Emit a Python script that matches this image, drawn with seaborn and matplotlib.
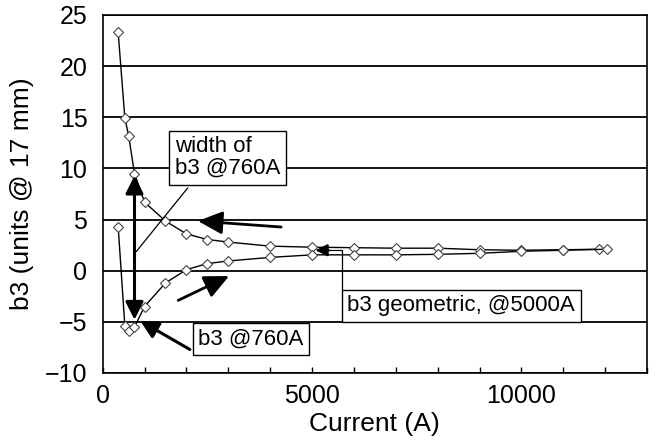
import matplotlib
matplotlib.use("Agg")
import matplotlib.pyplot as plt
import seaborn as sns
import pandas as pd

# ---- data ----
upper_current = [370, 530, 620, 760, 1000, 1500, 2000, 2500, 3000, 4000, 5000,
                 6000, 7000, 8000, 9000, 10000, 11000, 11850]
upper_b3 = [23.3, 14.9, 13.2, 9.5, 6.7, 4.85, 3.6, 3.05, 2.8, 2.4, 2.3,
            2.25, 2.2, 2.2, 2.05, 2.0, 2.05, 2.1]
lower_current = [370, 530, 620, 760, 1000, 1500, 2000, 2500, 3000, 4000, 5000,
                 6000, 7000, 8000, 9000, 10000, 11000, 12050]
lower_b3 = [4.3, -5.4, -5.9, -5.5, -3.5, -1.2, 0.1, 0.7, 0.95, 1.3, 1.55,
            1.55, 1.55, 1.6, 1.7, 1.9, 2.0, 2.1]

x_ticks = [0, 5000, 10000]
y_ticks = [-10, -5, 0, 5, 10, 15, 20, 25]

label_width = "width of\nb3 @760A"
label_760 = "b3 @760A"
label_geom = "b3 geometric, @5000A"

df = pd.concat([
    pd.DataFrame({"Current": upper_current, "b3": upper_b3, "branch": "down"}),
    pd.DataFrame({"Current": lower_current, "b3": lower_b3, "branch": "up"}),
])

sns.set_theme(style="white")
plt.rcParams["font.family"] = ["Liberation Sans", "DejaVu Sans"]
plt.rcParams["text.color"] = "black"
plt.rcParams["axes.labelcolor"] = "black"
plt.rcParams["xtick.color"] = "black"
plt.rcParams["ytick.color"] = "black"

fig = plt.figure(figsize=(6.59, 4.46), dpi=100)
ax = fig.add_axes([0.1558, 0.1637, 0.826, 0.8027])

for br in ["down", "up"]:
    sns.lineplot(data=df[df["branch"] == br], x="Current", y="b3", ax=ax,
                 sort=False, estimator=None, color="black", lw=1.0,
                 marker="D", markersize=5, markerfacecolor="white",
                 markeredgecolor="#444444", markeredgewidth=0.8, zorder=3)

ax.set_xlim(0, 13000)
ax.set_ylim(-10, 25)
ax.set_xticks(x_ticks)
ax.set_xticks(range(0, 13001, 1000), minor=True)
ax.set_yticks(y_ticks)
ax.yaxis.grid(True, color="black", lw=1.3)
ax.set_axisbelow(True)
for s in ax.spines.values():
    s.set_color("black")
    s.set_linewidth(1.2)
    s.set_visible(True)

ax.tick_params(axis="x", which="both", direction="in", length=4, width=1,
               color="black", labelcolor="black", bottom=True, labelsize=18, pad=8)
ax.tick_params(axis="y", length=0, labelsize=18, pad=11, labelcolor="black")
ax.set_xlabel("Current (A)", fontsize=19, labelpad=3, color="black")
ax.set_ylabel("b3 (units @ 17 mm)", fontsize=19, labelpad=8, color="black")

box = dict(boxstyle="square,pad=0.25", fc="white", ec="black", lw=1.0)

# width annotation
ax.plot([2033, 800], [8.1, 1.86], color="black", lw=0.9, zorder=4)
ax.text(1720, 11.05, label_width, fontsize=16, ha="left", va="center",
        linespacing=1.05, bbox=box, zorder=6, color="black")
ax.annotate("", xy=(760, -4.8), xytext=(760, 9.3),
            arrowprops=dict(arrowstyle="<|-|>,head_length=0.6,head_width=0.3",
                            mutation_scale=18, color="black", lw=2.2,
                            shrinkA=0, shrinkB=0), zorder=5)

# b3 @760A
ax.annotate("", xy=(897, -4.9), xytext=(2082, -7.7),
            arrowprops=dict(arrowstyle="-|>,head_length=0.6,head_width=0.3",
                            mutation_scale=18, color="black", lw=2.2,
                            shrinkA=0, shrinkB=0), zorder=5)
ax.text(3546, -6.7, label_760, fontsize=16, ha="center", va="center",
        bbox=box, zorder=6, color="black")

# geometric
ax.plot([5721, 5721, 5300], [-1.98, 2.0, 2.0], color="black", lw=0.9, zorder=4)
ax.annotate("", xy=(5080, 2.0), xytext=(5400, 2.0),
            arrowprops=dict(arrowstyle="-|>,head_length=0.6,head_width=0.3",
                            mutation_scale=12, color="black", lw=1.5,
                            shrinkA=0, shrinkB=0), zorder=5)
ax.text(8565, -3.45, label_geom, fontsize=16, ha="center", va="center",
        bbox=box, zorder=6, color="black")

# free arrows
ax.annotate("", xy=(2274, 4.86), xytext=(4262, 4.27),
            arrowprops=dict(arrowstyle="-|>,head_length=0.75,head_width=0.35",
                            mutation_scale=20, color="black", lw=2.0,
                            shrinkA=0, shrinkB=0), zorder=5)
ax.annotate("", xy=(3019, -0.52), xytext=(1803, -2.9),
            arrowprops=dict(arrowstyle="-|>,head_length=0.75,head_width=0.35",
                            mutation_scale=20, color="black", lw=2.0,
                            shrinkA=0, shrinkB=0), zorder=5)

fig.savefig("out.png", dpi=100, facecolor="white")
